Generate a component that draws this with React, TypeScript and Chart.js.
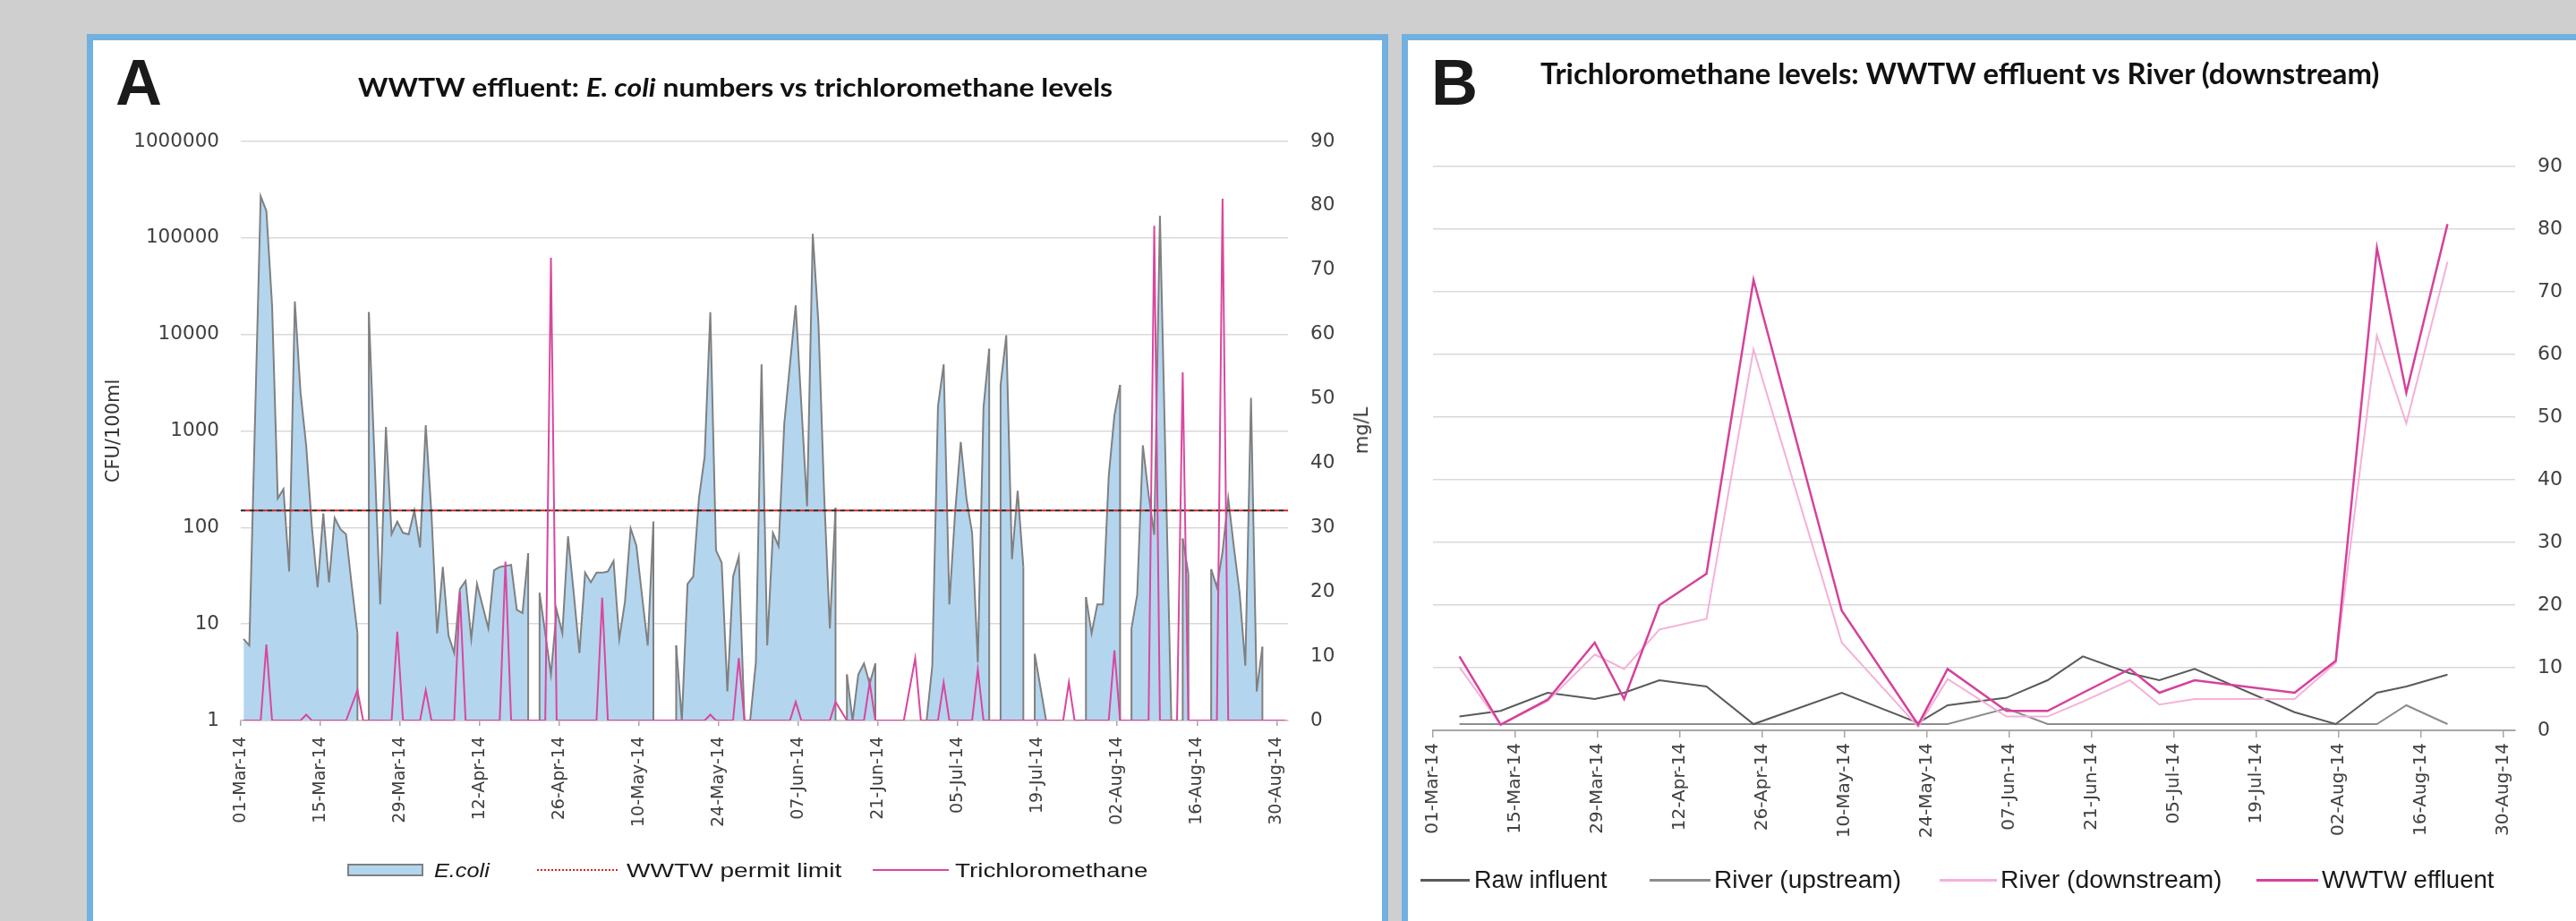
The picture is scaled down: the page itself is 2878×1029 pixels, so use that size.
import React, { useEffect, useLayoutEffect, useRef, useState } from 'react';
import { Chart, registerables } from 'chart.js';

Chart.register(...registerables);

// ---------- shared axis data ----------
const tickDays = [0, 14, 28, 42, 56, 70, 84, 98, 112, 126, 140, 154, 168, 182];
const tickLabels = ['01-Mar-14', '15-Mar-14', '29-Mar-14', '12-Apr-14', '26-Apr-14', '10-May-14', '24-May-14',
  '07-Jun-14', '21-Jun-14', '05-Jul-14', '19-Jul-14', '02-Aug-14', '16-Aug-14', '30-Aug-14'];
const logTicks = [1, 10, 100, 1000, 10000, 100000, 1000000];

// ---------- Panel A: E. coli (CFU/100ml), day index from 01-Mar-14 ----------
const ecoliDays = [0, 1, 3, 4, 5, 6, 7, 8, 9, 10, 11, 12, 13, 14, 15, 16, 17, 18, 19, 20, 21, 22, 24, 25, 26, 27, 28, 29, 30,
  31, 32, 33, 34, 35, 36, 37, 38, 39, 40, 41, 43, 44, 45, 47, 48, 49, 50, 51, 52, 53, 54, 55, 56, 57, 58, 59, 60, 61, 62,
  63, 64, 65, 66, 67, 68, 69, 71, 72, 73, 76, 77, 78, 79, 80, 81, 82, 83, 84, 85, 86, 87, 88, 89, 90, 91, 92, 93, 94, 95,
  97, 99, 100, 101, 102, 103, 104, 105, 106, 107, 108, 109, 110, 111, 112, 120, 121, 122, 123, 124, 125, 126, 127, 128,
  129, 130, 131, 132, 133, 134, 135, 136, 137, 138, 139, 141, 142, 148, 149, 150, 151, 152, 153, 154, 155, 156, 157, 158,
  159, 160, 161, 163, 164, 165, 166, 167, 170, 171, 172, 173, 174, 175, 176, 177, 178, 179];
const ecoliCounts = [7, 6, 270000, 190000, 20000, 200, 250, 35, 22000, 2500, 700, 100, 24, 140, 27, 126, 96, 85, 25, 8, null, 17000,
  16, 1100, 85, 115, 88, 85, 150, 62, 1150, 140, 8, 39, 7.6, 5, 23, 28, 7, 26, 9, 36, 39, 41, 14, 13, 54, null, 21, 8, 3, 14,
  8, 81, 21, 5, 34, 27, 34, 34, 35, 45, 7, 17, 98, 65, 6, 115, null, 6, 1, 26, 31, 200, 540, 17000, 58, 43, 2, 31, 50, 1, 1,
  4, 4900, 6, 88, 64, 1200, 20000, 166, 110000, 13000, 220, 9, 160, null, 3, 1, 3, 3.9, 2.4, 3.9, null, 1, 3.7, 1800, 4900,
  16, 140, 770, 200, 88, 4, 1750, 7100, null, 3000, 9800, 47, 240, 39, null, 4.9, 1, null, 19, 8, 16, 16, 340, 1450, 3000,
  null, 9, 20, 710, 220, 84, 170000, 1, null, 77, 33, null, 37, 24, 56, 200, 62, 21, 3.7, 2200, 2, 5.8];
const permitLimit = 150;

// Trichloromethane in WWTW effluent (mg/L)
const tcmDays = [0, 3, 4, 5, 10, 11, 12, 18, 20, 21, 26, 27, 28, 31, 32, 33, 37, 38, 39, 45, 46, 47, 53, 54, 55, 62, 63, 64,
  81, 82, 83, 86, 87, 88, 96, 97, 98, 103, 104, 106, 109, 110, 111, 116, 118, 119, 122, 123, 124, 128, 129, 130,
  144, 145, 146, 152, 153, 154, 159, 160, 161, 164, 165, 166, 171, 172, 173, 183];
const tcmValues = [0, 0, 11.8, 0, 0, 0.9, 0, 0, 4.7, 0, 0, 13.8, 0, 0, 4.7, 0, 0, 20, 0, 0, 24.7, 0, 0, 71.9, 0, 0, 19.1, 0,
  0, 0.9, 0, 0, 9.7, 0, 0, 2.9, 0, 0, 2.9, 0, 0, 5.9, 0, 0, 9.7, 0, 0, 5.9, 0, 0, 7.9, 0,
  0, 5.9, 0, 0, 10.9, 0, 0, 76.9, 0, 0, 54.1, 0, 0, 81.1, 0, 0];

// ---------- Panel B: trichloromethane (mg/L) ----------
const bDays = [4, 11, 19, 27, 32, 38, 46, 54, 69, 82, 87, 97, 104, 110, 118, 123, 129, 146, 153, 160, 165, 172];
const rawInfluent = [2.2, 3.1, 6.0, 5.0, 6.0, 8.0, 7.0, 1.0, 6.0, 1.2, 4.0, 5.2, 8.0, 11.8, 9.1, 8.0, 9.8, 2.9, 1.0, 6.0, 7.0, 8.9];
const riverUpstream = [1, 1, 1, 1, 1, 1, 1, 1, 1, 1, 1, 3.5, 1, 1, 1, 1, 1, 1, 1, 1, 4.0, 1];
const riverDownstream = [10.1, 0.9, 4.7, 12.1, 9.8, 16.1, 17.8, 60.8, 14.0, 0.6, 8.2, 2.2, 2.2, 4.6, 8.0, 4.1, 5.0, 5.0, 10.8, 63.0, 49.0, 74.8];
const wwtwEffluent = [11.8, 0.9, 4.9, 14.0, 5.0, 20.0, 25.0, 71.9, 19.1, 0.9, 9.8, 3.1, 3.1, 6.0, 9.8, 6.0, 8.0, 6.0, 11.1, 77.0, 53.9, 80.8];

// ---------- styling ----------
const BORDER = '#72b0e0';
const BG = '#cfcfcf';
const BLUE_FILL = '#b4d5ee';
const ECOLI_LINE = '#808080';
const PINK = '#d9479f';
const RAW = '#5a5a5a';
const UP = '#8c8c8c';
const DOWN = '#f6b0d8';
const EFF = '#d6419c';
const TICK_COLOR = '#404040';
const GRID = '#d9d9d9';
const SANS = "'DejaVu Sans', Verdana, sans-serif";

const pts = (xs: number[], ys: (number | null)[]) => xs.map((x, i) => ({ x, y: ys[i] }));

function xAxis(fontSize: number, tickLength: number, padding: number, borderWidth: number, borderColor: string) {
  return {
    type: 'linear',
    min: -0.5,
    max: 183.5,
    afterBuildTicks: (s: any) => { s.ticks = tickDays.map((d) => ({ value: d - 0.5 })); },
    afterFit: (s: any) => { s.height = 150; },
    ticks: {
      autoSkip: false, maxRotation: 90, minRotation: 90, padding,
      color: TICK_COLOR, font: { family: SANS, size: fontSize },
      callback: (_v: any, i: number) => tickLabels[i],
    },
    grid: { display: true, drawOnChartArea: false, drawTicks: true, tickLength, color: '#a6a6a6', lineWidth: 1.5 },
    border: { display: true, color: borderColor, width: borderWidth },
  };
}

// draws the grey outline down the vertical edges of the area where a sampling gap starts/ends
const gapEdges = {
  id: 'gapEdges',
  afterDatasetDraw(chart: any, args: any) {
    const ds = chart.data.datasets[args.index];
    if (ds.label !== 'E.coli') return;
    const meta = args.meta;
    const bottom = chart.chartArea.bottom;
    const data = ds.data;
    const ctx = chart.ctx;
    ctx.save();
    ctx.strokeStyle = ECOLI_LINE;
    ctx.lineWidth = 2;
    meta.data.forEach((p: any, i: number) => {
      if (data[i].y == null) return;
      const prevGap = i > 0 && data[i - 1].y == null;
      const nextGap = i < data.length - 1 && data[i + 1].y == null;
      if (prevGap || nextGap || i === data.length - 1) {
        ctx.beginPath();
        ctx.moveTo(p.x, p.y);
        ctx.lineTo(p.x, bottom);
        ctx.stroke();
      }
    });
    ctx.restore();
  },
};

function FitText({ width, style, children }: any) {
  const ref = useRef<HTMLSpanElement>(null);
  const [k, setK] = useState(1);
  useLayoutEffect(() => {
    const measure = () => {
      const el = ref.current;
      if (el && el.offsetWidth) setK(width / el.offsetWidth);
    };
    measure();
    const f: any = (document as any).fonts;
    if (f && f.ready) f.ready.then(measure);
  }, [width]);
  return (
    <span ref={ref} style={{ position: 'absolute', display: 'inline-block', whiteSpace: 'nowrap', transformOrigin: '0 0', transform: `scaleX(${k})`, ...style }}>
      {children}
    </span>
  );
}

function ChartCanvas({ width, height, build }: any) {
  const ref = useRef<HTMLCanvasElement>(null);
  useEffect(() => {
    const chart = build(ref.current);
    return () => chart.destroy();
  }, []);
  return <canvas ref={ref} width={width} height={height} style={{ position: 'absolute', left: 0, top: 0, width, height }} />;
}

function buildA(canvas: HTMLCanvasElement) {
  return new Chart(canvas, {
    type: 'line',
    data: {
      datasets: [
        {
          label: 'Trichloromethane', data: pts(tcmDays, tcmValues), yAxisID: 'yMg',
          borderColor: PINK, borderWidth: 2, pointRadius: 0, fill: false, tension: 0, order: 0,
        },
        {
          label: 'WWTW permit limit', data: [{ x: -0.5, y: permitLimit }, { x: 183.5, y: permitLimit }], yAxisID: 'yLog',
          borderColor: '#222', borderDash: [5, 5], borderWidth: 2, pointRadius: 0, fill: false, order: 1,
        },
        {
          label: 'limit-red', data: [{ x: -0.5, y: permitLimit }, { x: 183.5, y: permitLimit }], yAxisID: 'yLog',
          borderColor: '#e02020', borderDash: [5, 5], borderDashOffset: 5, borderWidth: 2, pointRadius: 0, fill: false, order: 1,
        },
        {
          label: 'E.coli', data: pts(ecoliDays, ecoliCounts), yAxisID: 'yLog',
          borderColor: ECOLI_LINE, borderWidth: 2, backgroundColor: BLUE_FILL, fill: 'start',
          pointRadius: 0, tension: 0, spanGaps: false, order: 2,
        },
      ],
    },
    options: {
      responsive: false, maintainAspectRatio: false, animation: false,
      layout: { padding: { left: 0, right: 0, top: 113, bottom: 74 } },
      plugins: { legend: { display: false }, tooltip: { enabled: false }, title: { display: false } },
      scales: {
        x: xAxis(19, 6, 12, 1.5, '#bfbfbf'),
        yLog: {
          type: 'logarithmic', position: 'left', min: 1, max: 1000000,
          afterBuildTicks: (s: any) => { s.ticks = logTicks.map((v) => ({ value: v, major: true })); },
          afterFit: (s: any) => { s.width = 165; },
          ticks: { padding: 24, color: TICK_COLOR, font: { family: SANS, size: 21.5 }, callback: (v: any) => String(v) },
          grid: { color: GRID, lineWidth: 1.5, drawTicks: false },
          border: { display: false },
          title: { display: true, text: 'CFU/100ml', color: '#333', font: { family: SANS, size: 21 }, padding: { top: 11, bottom: 0 } },
        },
        yMg: {
          type: 'linear', position: 'right', min: 0, max: 90,
          afterFit: (s: any) => { s.width = 105; },
          ticks: { stepSize: 10, padding: 25, color: TICK_COLOR, font: { family: SANS, size: 21.5 } },
          grid: { display: false, drawTicks: false },
          border: { display: false },
        },
      },
    } as any,
    plugins: [gapEdges],
  } as any);
}

function buildB(canvas: HTMLCanvasElement) {
  return new Chart(canvas, {
    type: 'line',
    data: {
      datasets: [
        { label: 'WWTW effluent', data: pts(bDays, wwtwEffluent), borderColor: EFF, borderWidth: 2.5, pointRadius: 0, fill: false, tension: 0, order: 0 },
        { label: 'River (downstream)', data: pts(bDays, riverDownstream), borderColor: DOWN, borderWidth: 2, pointRadius: 0, fill: false, tension: 0, order: 1 },
        { label: 'Raw influent', data: pts(bDays, rawInfluent), borderColor: RAW, borderWidth: 2, pointRadius: 0, fill: false, tension: 0, order: 2 },
        { label: 'River (upstream)', data: pts(bDays, riverUpstream), borderColor: UP, borderWidth: 2, pointRadius: 0, fill: false, tension: 0, order: 3 },
      ],
    },
    options: {
      responsive: false, maintainAspectRatio: false, animation: false,
      layout: { padding: { left: 28, right: 0, top: 141, bottom: 63 } },
      plugins: { legend: { display: false }, tooltip: { enabled: false }, title: { display: false } },
      scales: {
        x: xAxis(20, 8, 6, 2, '#a6a6a6'),
        y: {
          type: 'linear', position: 'right', min: 0, max: 90,
          afterFit: (s: any) => { s.width = 68; },
          ticks: { stepSize: 10, padding: 25, color: TICK_COLOR, font: { family: SANS, size: 22 } },
          grid: { color: GRID, lineWidth: 1.5, drawTicks: false },
          border: { display: false },
        },
      },
    } as any,
  } as any);
}

const letterStyle: React.CSSProperties = {
  position: 'absolute', fontFamily: "'Liberation Sans', Arial, sans-serif", fontWeight: 700,
  fontSize: 72, lineHeight: '72px', color: '#1a1a1a',
};
const titleBase: React.CSSProperties = { fontFamily: 'Lato, sans-serif', fontWeight: 700, color: '#111' };
const legendA: React.CSSProperties = { fontFamily: "'Liberation Sans', Arial, sans-serif", fontSize: 22, lineHeight: '22px', color: '#1a1a1a', top: 917 };
const legendB: React.CSSProperties = { fontFamily: "'Liberation Sans', Arial, sans-serif", fontSize: 27, lineHeight: '27px', color: '#1a1a1a', top: 925 };

function LineSwatch({ left, width, top, color, h = 3 }: any) {
  return <div style={{ position: 'absolute', left, top: top - h / 2, width, height: h, background: color }} />;
}

export default function App() {
  return (
    <div style={{ position: 'absolute', left: 0, top: 0, width: 2878, height: 1029, background: BG, overflow: 'hidden' }}>
      {/* Panel A */}
      <div style={{ position: 'absolute', left: 97, top: 38, width: 1454, height: 1100, boxSizing: 'border-box', border: `7px solid ${BORDER}`, background: '#fff' }}>
        <ChartCanvas width={1440} height={984} build={buildA} />
        <div style={{ ...letterStyle, left: 25, top: 10.6 }}>A</div>
        <FitText width={843} style={{ ...titleBase, fontSize: 29, lineHeight: '29px', left: 296, top: 37 }}>
          WWTW effluent: <i>E. coli</i> numbers vs trichloromethane levels
        </FitText>
        <div style={{ position: 'absolute', left: 1417, top: 436, transform: 'translate(-50%,-50%) rotate(-90deg)', fontFamily: SANS, fontSize: 21, color: '#333', whiteSpace: 'nowrap' }}>mg/L</div>
        {/* legend A */}
        <div style={{ position: 'absolute', left: 284, top: 920, width: 85, height: 14, boxSizing: 'border-box', background: BLUE_FILL, border: `2px solid ${ECOLI_LINE}` }} />
        <FitText width={62} style={{ ...legendA, left: 381, fontStyle: 'italic' }}>E.coli</FitText>
        <div style={{ position: 'absolute', left: 496, top: 926, width: 90, height: 0, borderTop: '2px dotted #e02020' }} />
        <FitText width={240} style={{ ...legendA, left: 596 }}>WWTW permit limit</FitText>
        <LineSwatch left={871} width={85} top={927} color={PINK} h={2.5} />
        <FitText width={215} style={{ ...legendA, left: 963 }}>Trichloromethane</FitText>
      </div>

      {/* Panel B */}
      <div style={{ position: 'absolute', left: 1566, top: 38, width: 1330, height: 1100, boxSizing: 'border-box', border: `7px solid ${BORDER}`, background: '#fff' }}>
        <ChartCanvas width={1305} height={984} build={buildB} />
        <div style={{ ...letterStyle, left: 26, top: 10.6 }}>B</div>
        <FitText width={937} style={{ ...titleBase, fontSize: 33, lineHeight: '33px', left: 148, top: 20.4 }}>
          Trichloromethane levels: WWTW effluent vs River (downstream)
        </FitText>
        {/* legend B */}
        <LineSwatch left={14} width={55} top={938} color={RAW} />
        <FitText width={149} style={{ ...legendB, left: 74 }}>Raw influent</FitText>
        <LineSwatch left={270} width={68} top={938} color={UP} />
        <FitText width={209} style={{ ...legendB, left: 342 }}>River (upstream)</FitText>
        <LineSwatch left={594} width={64} top={938} color={DOWN} />
        <FitText width={248} style={{ ...legendB, left: 662 }}>River (downstream)</FitText>
        <LineSwatch left={948} width={69} top={938} color={EFF} />
        <FitText width={193} style={{ ...legendB, left: 1021 }}>WWTW effluent</FitText>
      </div>
    </div>
  );
}
